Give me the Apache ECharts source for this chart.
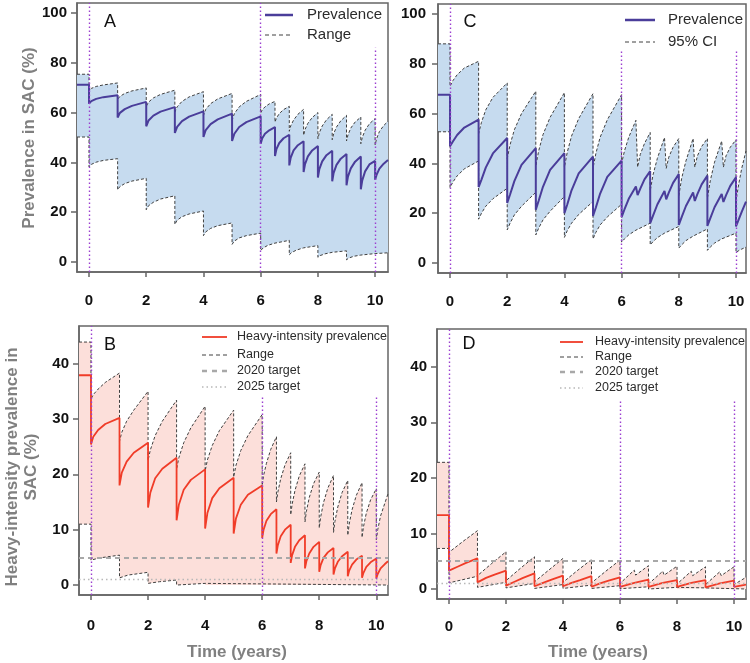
<!DOCTYPE html>
<html><head><meta charset="utf-8">
<script src="https://cdn.jsdelivr.net/npm/echarts@6/dist/echarts.min.js"></script>
<style>html,body{margin:0;padding:0;background:#fff}#c{width:750px;height:663px}</style>
</head><body><div id="c"></div>
<script>
// ---------- tick labels ----------
const xTicks = [0, 2, 4, 6, 8, 10];
const yTicksTop = [0, 20, 40, 60, 80, 100];
const yTicksBottom = [0, 10, 20, 30, 40];

// ---------- Panel A (prevalence, range) ----------
const prevA = [[-0.42,71.2],[0,71.2],
[0,63.6],[0.08,64.6],[0.25,65.5],[0.5,66.2],[1,67],
[1,58],[1.08,59.9],[1.25,61.4],[1.5,62.7],[2,64.3],
[2,54.5],[2.08,56.8],[2.25,58.8],[2.5,60.4],[3,62.2],
[3,51.8],[3.08,54.3],[3.25,56.6],[3.5,58.4],[4,60.5],
[4,50.2],[4.08,53],[4.25,55.4],[4.5,57.3],[5,59.6],
[5,48.6],[5.08,51.5],[5.25,54.2],[5.5,56.2],[6,58.5],
[6,47.5],[6.05,49.6],[6.15,51.5],[6.3,52.9],[6.5,54.2],
[6.5,42.6],[6.55,45.3],[6.65,47.8],[6.8,49.7],[7,51.1],
[7,38.8],[7.05,41.9],[7.15,44.8],[7.3,46.9],[7.5,48.5],
[7.5,36.1],[7.55,39.3],[7.65,42.4],[7.8,44.8],[8,46.6],
[8,33.9],[8.05,37.3],[8.15,40.4],[8.3,42.9],[8.5,44.7],
[8.5,32.4],[8.55,35.8],[8.65,39],[8.8,41.5],[9,43.4],
[9,30.8],[9.05,34.3],[9.15,37.6],[9.3,40.3],[9.5,42.4],
[9.5,29.2],[9.55,32.8],[9.65,36.4],[9.8,39.2],[10,40.6],
[10,33],[10.05,35],[10.15,37.5],[10.3,39.5],[10.45,41]];
const upperA = [[-0.42,75.4],[0,75.4],
[0,69],[0.08,69.7],[0.25,70.5],[0.5,71.1],[1,71.9],
[1,65.3],[1.08,66.5],[1.25,67.7],[1.5,68.7],[2,69.9],
[2,62.5],[2.08,64.2],[2.25,65.9],[2.5,67.3],[3,69],
[3,60.2],[3.08,62.3],[3.25,64.5],[3.5,66.3],[4,68.4],
[4,58.9],[4.08,61.3],[4.25,63.6],[4.5,65.5],[5,67.7],
[5,56.9],[5.08,59.6],[5.25,62.3],[5.5,64.5],[6,67.3],
[6,59.8],[6.05,61],[6.15,62.3],[6.3,63.5],[6.5,64.5],
[6.5,56.2],[6.55,57.8],[6.65,59.6],[6.8,61.2],[7,62.5],
[7,52.5],[7.05,54.7],[7.15,57],[7.3,59.3],[7.5,61.3],
[7.5,50.9],[7.55,53.2],[7.65,55.7],[7.8,58],[8,60],
[8,49.5],[8.05,51.9],[8.15,54.6],[8.3,57.1],[8.5,59.3],
[8.5,49.1],[8.55,51.5],[8.65,54.2],[8.8,56.7],[9,58.9],
[9,48.6],[9.05,51],[9.15,53.8],[9.3,56.2],[9.5,58.2],
[9.5,47.5],[9.55,50],[9.65,52.9],[9.8,55.5],[10,57.6],
[10,47],[10.05,49.5],[10.15,52.4],[10.3,54.8],[10.45,56.5]];
const lowerA = [[-0.42,50.2],[0,50.2],
[0,38.2],[0.08,39.2],[0.25,40.1],[0.5,40.8],[1,41.5],
[1,29],[1.08,30.3],[1.25,31.5],[1.5,32.5],[2,33.6],
[2,21],[2.08,22.6],[2.25,24],[2.5,25.3],[3,26.6],
[3,15.1],[3.08,16.8],[3.25,18.2],[3.5,19.3],[4,20.5],
[4,10.6],[4.08,12.1],[4.25,13.5],[4.5,14.6],[5,15.7],
[5,7.1],[5.08,8.4],[5.25,9.7],[5.5,10.6],[6,11.6],
[6,4.6],[6.08,5.6],[6.25,6.7],[6.5,7.6],[7,8.7],
[7,2.9],[7.08,3.8],[7.25,4.8],[7.5,5.7],[8,6.6],
[8,1.9],[8.08,2.6],[8.25,3.3],[8.5,3.9],[9,4.5],
[9,0.9],[9.08,1.6],[9.25,2.3],[9.5,2.8],[10,3.4],
[10.45,3.7]];
const vlinesA = [[0,104],[6,104],[10,86]];

// ---------- Panel C (prevalence, 95% CI) ----------
const prevC = [[-0.42,67.6],[0,67.6],
[0,46.9],[0.1,48.8],[0.25,51.4],[0.5,54.4],[1,57.6],
[1,30.5],[1.1,33.5],[1.25,38.3],[1.5,44],[2,50.2],
[2,24.1],[2.1,27.5],[2.25,32.9],[2.5,39.4],[3,46.1],
[3,21.4],[3.1,25],[3.25,30.6],[3.5,37.4],[4,44.1],
[4,20],[4.1,23.5],[4.25,29.2],[4.5,36],[5,42.7],
[5,18.9],[5.1,22.3],[5.25,27.9],[5.5,34.6],[6,41.1],
[6,18.4],[6.1,21.5],[6.25,25.8],[6.5,30.7],[6.56,27.3],[6.65,29.8],[6.8,33.6],[7,36.9],
[7,16],[7.1,19],[7.25,23.5],[7.5,28.9],[7.56,25.6],[7.65,28.3],[7.8,32.2],[8,35.7],
[8,15.3],[8.1,18.4],[8.25,22.9],[8.5,28.3],[8.56,24.9],[8.65,27.7],[8.8,31.6],[9,35.1],
[9,14.9],[9.1,17.9],[9.25,22.4],[9.5,27.7],[9.56,24.5],[9.65,27.2],[9.8,31],[10,34.4],
[10,14.7],[10.1,17.6],[10.2,20.5],[10.35,24.7]];
const upperC = [[-0.42,88],[0,88],
[0,71],[0.1,73.2],[0.25,75.6],[0.5,78.3],[1,81],
[1,52],[1.1,56.5],[1.25,61.5],[1.5,66.5],[2,72.3],
[2,42],[2.1,47.5],[2.25,53.5],[2.5,60],[3,69],
[3,39],[3.1,45],[3.25,51.5],[3.5,58.5],[4,68.4],
[4,38.4],[4.1,44.5],[4.25,51],[4.5,58],[5,68],
[5,38],[5.1,44],[5.25,50.5],[5.5,57.5],[6,67.6],
[6,40],[6.1,45],[6.25,50.5],[6.5,57.3],[6.56,38.5],[6.65,43.5],[6.8,48],[7,52.4],
[7,29],[7.1,35.5],[7.25,42],[7.5,50.4],[7.56,38],[7.65,42.5],[7.8,46.5],[8,50],
[8,27],[8.1,34],[8.25,41],[8.5,50],[8.56,38.5],[8.65,43],[8.8,46.8],[9,50],
[9,26],[9.1,33],[9.25,40.5],[9.5,49],[9.56,38.5],[9.65,43],[9.8,46.5],[10,49.5],
[10,25],[10.1,32],[10.2,38],[10.35,45]];
const lowerC = [[-0.42,52.7],[0,52.7],
[0,30.3],[0.1,32.5],[0.25,35],[0.5,37.8],[1,41],
[1,17.6],[1.1,20],[1.25,22.8],[1.5,25.8],[2,30],
[2,13.3],[2.1,16],[2.25,19.3],[2.5,22.8],[3,28.4],
[3,11.3],[3.1,14],[3.25,17.3],[3.5,20.8],[4,26.7],
[4,10.3],[4.1,13],[4.25,16],[4.5,19.5],[5,24.7],
[5,9.7],[5.1,12.3],[5.25,15.3],[5.5,18.5],[6,23.6],
[6,8.4],[6.1,9.7],[6.25,11.3],[6.5,13.2],[7,16],
[7,7.3],[7.1,8.6],[7.25,10.2],[7.5,12],[8,14.7],
[8,6],[8.1,7.3],[8.25,9],[8.5,10.8],[9,13.7],
[9,5.1],[9.1,6.4],[9.25,8],[9.5,9.7],[10,12],
[10,4.3],[10.1,5],[10.2,5.6],[10.35,6.4]];
const vlinesC = [[0,104],[6,85],[10,85]];

// ---------- Panel B (heavy-intensity, range) ----------
const prevB = [[-0.42,37.9],[0,37.9],
[0,25.4],[0.08,26.8],[0.25,28],[0.5,29.1],[1,30.2],
[1,18],[1.08,20.3],[1.25,22.3],[1.5,23.9],[2,25.7],
[2,14],[2.08,16.7],[2.25,19.3],[2.5,21],[3,23],
[3,11.7],[3.08,14.5],[3.25,17.2],[3.5,19],[4,20.9],
[4,10.2],[4.08,13],[4.25,15.7],[4.5,17.5],[5,19.4],
[5,9.3],[5.08,12],[5.25,14.5],[5.5,16.3],[6,18],
[6,8.5],[6.05,10],[6.15,11.6],[6.3,12.8],[6.5,13.7],
[6.5,5.7],[6.55,7.2],[6.65,8.8],[6.8,10],[7,10.9],
[7,4],[7.05,5.4],[7.15,6.9],[7.3,8.1],[7.5,9],
[7.5,3],[7.55,4.3],[7.65,5.7],[7.8,6.9],[8,7.8],
[8,2.4],[8.05,3.6],[8.15,4.9],[8.3,5.9],[8.5,6.7],
[8.5,1.9],[8.55,3],[8.65,4.2],[8.8,5.2],[9,6],
[9,1.6],[9.05,2.6],[9.15,3.7],[9.3,4.6],[9.5,5.3],
[9.5,1.3],[9.55,2.2],[9.65,3.3],[9.8,4.1],[10,4.8],
[10,1.2],[10.05,2],[10.15,3],[10.3,3.8],[10.41,4.3]];
const upperB = [[-0.42,43.9],[0,43.9],
[0,33.6],[0.08,34.4],[0.25,35.4],[0.5,36.6],[1,38.3],
[1,26],[1.08,27.6],[1.25,29.6],[1.5,31.6],[2,35],
[2,22.5],[2.08,24.4],[2.25,27],[2.5,29.6],[3,33.4],
[3,21],[3.08,23],[3.25,25.7],[3.5,28.4],[4,32.3],
[4,20.6],[4.08,22.6],[4.25,25.2],[4.5,27.9],[5,31.6],
[5,19.5],[5.08,21.6],[5.25,24.3],[5.5,27],[6,30.8],
[6,18],[6.05,19.8],[6.15,22],[6.3,24.5],[6.5,26.8],
[6.5,15],[6.55,16.8],[6.65,19.2],[6.8,21.7],[7,23.9],
[7,12.7],[7.05,14.6],[7.15,17.1],[7.3,19.7],[7.5,21.9],
[7.5,11.4],[7.55,13.3],[7.65,15.8],[7.8,18.3],[8,20.4],
[8,10.3],[8.05,12.3],[8.15,14.9],[8.3,17.5],[8.5,19.8],
[8.5,9.5],[8.55,11.5],[8.65,14.1],[8.8,16.7],[9,18.9],
[9,9],[9.05,11],[9.15,13.6],[9.3,16.2],[9.5,18.5],
[9.5,8.6],[9.55,10.5],[9.65,13],[9.8,15.4],[10,17.4],
[10,8.2],[10.05,10],[10.15,12.5],[10.3,14.8],[10.41,16.5]];
const lowerB = [[-0.42,11],[0,11],
[0,4.5],[0.3,4.9],[1,5.4],
[1,1.3],[1.3,1.8],[2,2.3],
[2,0.3],[2.4,0.6],[3,0.9],
[3,0],[3.5,0.15],[4,0.3],
[4,0],[10.41,0]];
const vlinesB = [[0,46.8],[6,34],[10,34]];

// ---------- Panel D (heavy-intensity, range) ----------
const prevD = [[-0.42,13.3],[0,13.3],
[0,3.3],[0.3,4],[0.6,4.7],[1,5.5],
[1,1.2],[1.3,2],[1.6,2.6],[2,3.3],
[2,0.6],[2.3,1.3],[2.6,2],[3,2.8],
[3,0.5],[3.3,1.1],[3.6,1.7],[4,2.4],
[4,0.5],[4.3,1.1],[4.6,1.6],[5,2.3],
[5,0.4],[5.3,1],[5.6,1.5],[6,2.1],
[6,0.4],[6.5,1.1],[6.55,1],[7,1.7],
[7,0.4],[7.5,1.1],[7.55,1],[8,1.6],
[8,0.4],[8.5,1.1],[8.55,1],[9,1.6],
[9,0.3],[9.5,1],[9.55,0.9],[10,1.5],
[10,0.4],[10.42,0.8]];
const upperD = [[-0.42,22.8],[0,22.8],
[0,6.6],[0.5,8.6],[1,10.5],
[1,2.4],[1.5,4.6],[2,6.7],
[2,1.5],[2.5,3.7],[3,5.8],
[3,1.3],[3.5,3.4],[4,5.5],
[4,1.2],[4.5,3.3],[5,5.3],
[5,1.1],[5.5,3.2],[6,5.2],
[6,1],[6.5,3.4],[6.55,2.5],[7,4.2],
[7,0.9],[7.5,3.2],[7.55,2.5],[8,4.1],
[8,0.9],[8.5,3.2],[8.55,2.4],[9,4],
[9,0.8],[9.5,3.1],[9.55,2.4],[10,4],
[10,0.8],[10.42,2.1]];
const lowerD = [[-0.42,7.3],[0,7.3],
[0,1.1],[1,2.3],
[1,0.3],[2,1.2],
[2,0.2],[3,1],
[3,0.1],[4,0.8],
[4,0.1],[5,0.7],
[5,0.1],[6,0.6],
[6,0.05],[7,0.4],
[7,0],[8,0.3],
[8,0],[9,0.2],
[9,0],[10.42,0]];
const vlinesD = [[0,46.8],[6,34],[10,34]];

const target2020 = 5;
const target2025 = 1;

// ---------- styling / layout ----------
const FONT = '"Liberation Sans", Arial, Helvetica, sans-serif';
const AX = '#666';
const PURPLE = '#4a3d9a', BLUE_FILL = '#c6dbef';
const RED = '#f03c28', PINK_FILL = '#fcdfda';
const VL = '#9b3fd0';

const panels = [
  {grid:{left:77, top:3, width:311, height:269}, x:[-0.42,10.45], y:[-4,104], yt:yTicksTop, xm:21, ym:10,
   prev:prevA, up:upperA, lo:lowerA, vl:vlinesA, color:PURPLE, fill:BLUE_FILL, w:2, targets:false},
  {grid:{left:438, top:4, width:308, height:269}, x:[-0.42,10.35], y:[-4,104], yt:yTicksTop, xm:21, ym:12,
   prev:prevC, up:upperC, lo:lowerC, vl:vlinesC, color:PURPLE, fill:BLUE_FILL, w:2, targets:false},
  {grid:{left:79, top:326, width:309, height:269}, x:[-0.42,10.41], y:[-1.8,46.8], yt:yTicksBottom, xm:23, ym:10,
   prev:prevB, up:upperB, lo:lowerB, vl:vlinesB, color:RED, fill:PINK_FILL, w:1.8, targets:true},
  {grid:{left:437, top:329, width:309, height:270}, x:[-0.42,10.42], y:[-1.8,46.8], yt:yTicksBottom, xm:20, ym:10,
   prev:prevD, up:upperD, lo:lowerD, vl:vlinesD, color:RED, fill:PINK_FILL, w:1.8, targets:true}
];

const grid = [], xAxis = [], yAxis = [], series = [];
panels.forEach((p, i) => {
  grid.push(Object.assign({show:true, borderColor:AX, borderWidth:1.5, backgroundColor:'transparent', containLabel:false}, p.grid));
  const common = {
    gridIndex:i, type:'value',
    axisLine:{show:true, onZero:false, lineStyle:{color:AX, width:1.5}},
    splitLine:{show:false},
  };
  xAxis.push(Object.assign({}, common, {
    min:p.x[0], max:p.x[1],
    axisTick:{show:true, length:5, customValues:xTicks, lineStyle:{color:AX, width:1.5}},
    axisLabel:{customValues:xTicks, margin:p.xm, fontFamily:FONT, fontWeight:'bold', fontSize:15, color:'#111'}
  }));
  yAxis.push(Object.assign({}, common, {
    min:p.y[0], max:p.y[1],
    axisTick:{show:true, length:6, customValues:p.yt, lineStyle:{color:AX, width:1.5}},
    axisLabel:{customValues:p.yt, margin:p.ym, fontFamily:FONT, fontWeight:'bold', fontSize:15, color:'#111'}
  }));
  // shaded range band
  const up = p.up, lo = p.lo, fill = p.fill;
  series.push({
    type:'custom', xAxisIndex:i, yAxisIndex:i, silent:true, z:1, clip:true,
    data:[up[0]],
    renderItem:(params, api) => {
      const pts = up.map(d => api.coord(d));
      for (let k = lo.length - 1; k >= 0; k--) pts.push(api.coord(lo[k]));
      return {type:'polygon', shape:{points:pts}, style:{fill:fill}};
    }
  });
  const rangeLine = data => ({
    type:'line', xAxisIndex:i, yAxisIndex:i, data:data, symbol:'none', silent:true, z:3,
    lineStyle:{color:'#404040', width:1, type:[3,2]}
  });
  const upS = rangeLine(up), loS = rangeLine(lo);
  if (p.targets) {
    upS.markLine = {symbol:['none','none'], silent:true, label:{show:false}, animation:false,
      lineStyle:{color:'#a8a8a8', width:2.2, type:[5,4]},
      data:[[{coord:[p.x[0], target2020]},{coord:[p.x[1], target2020]}]]};
    loS.markLine = {symbol:['none','none'], silent:true, label:{show:false}, animation:false,
      lineStyle:{color:'#b8b8b8', width:1.3, type:[1.5,3]},
      data:[[{coord:[p.x[0], target2025]},{coord:[p.x[1], target2025]}]]};
  }
  series.push(upS, loS);
  series.push({
    type:'line', xAxisIndex:i, yAxisIndex:i, data:p.prev, symbol:'none', silent:true, z:4,
    lineStyle:{color:p.color, width:p.w},
    markLine:{symbol:['none','none'], silent:true, label:{show:false}, animation:false,
      lineStyle:{color:VL, width:1.4, type:[1.5,2.5]},
      data:p.vl.map(v => [{coord:[v[0], p.y[0]]},{coord:[v[0], v[1]]}])}
  });
});

const txt = (x, y, text, font, fill, rot, align) => ({
  type:'text', x:x, y:y, rotation:rot || 0, silent:true, z:10,
  style:{text:text, font:font, fill:fill, align:align || 'left', verticalAlign:'middle',
         textAlign:align || 'left', textVerticalAlign:'middle'}
});
const seg = (x1, y1, x2, y2, stroke, lw, dash) => ({
  type:'line', silent:true, z:10, shape:{x1:x1, y1:y1, x2:x2, y2:y2},
  style:{stroke:stroke, lineWidth:lw, lineDash:dash || null}
});
const TITLE = 'bold 17px ' + FONT, TC = '#808080';
const L1 = '15px ' + FONT, L2 = '12.5px ' + FONT, LC = '#2b2b2b';

const graphic = [
  txt(29, 138, 'Prevalence in SAC (%)', TITLE, TC, Math.PI/2, 'center'),
  txt(12, 467, 'Heavy-intensity prevalence in', TITLE, TC, Math.PI/2, 'center'),
  txt(31, 467, 'SAC (%)', TITLE, TC, Math.PI/2, 'center'),
  txt(237, 652, 'Time (years)', TITLE, TC, 0, 'center'),
  txt(598, 652, 'Time (years)', TITLE, TC, 0, 'center'),
  txt(110, 22, 'A', '18px ' + FONT, '#111', 0, 'center'),
  txt(470, 22, 'C', '18px ' + FONT, '#111', 0, 'center'),
  txt(110, 345, 'B', '18px ' + FONT, '#111', 0, 'center'),
  txt(469, 344, 'D', '18px ' + FONT, '#111', 0, 'center'),
  // legend A
  seg(265, 15, 293, 15, PURPLE, 2.5),
  seg(265, 35, 293, 35, '#404040', 1, [4,3]),
  txt(307, 15, 'Prevalence', L1, LC),
  txt(307, 35, 'Range', L1, LC),
  // legend C
  seg(625, 20, 655, 20, PURPLE, 2.5),
  seg(625, 42, 655, 42, '#404040', 1, [4,3]),
  txt(668, 20, 'Prevalence', L1, LC),
  txt(668, 42, '95% CI', L1, LC),
  // legend B
  seg(202, 337, 227, 337, RED, 1.8),
  seg(202, 355, 227, 355, '#404040', 1, [4,3]),
  seg(202, 371, 227, 371, '#a8a8a8', 2.5, [5,5]),
  seg(202, 387, 227, 387, '#b8b8b8', 1.5, [1.5,3]),
  txt(237, 337, 'Heavy-intensity prevalence', L2, LC),
  txt(237, 355, 'Range', L2, LC),
  txt(237, 371, '2020 target', L2, LC),
  txt(237, 387, '2025 target', L2, LC),
  // legend D
  seg(560, 342, 583, 342, RED, 1.8),
  seg(560, 357, 583, 357, '#404040', 1, [4,3]),
  seg(560, 372, 583, 372, '#a8a8a8', 2.5, [5,5]),
  seg(560, 388, 583, 388, '#b8b8b8', 1.5, [1.5,3]),
  txt(595, 342, 'Heavy-intensity prevalence', L2, LC),
  txt(595, 357, 'Range', L2, LC),
  txt(595, 372, '2020 target', L2, LC),
  txt(595, 388, '2025 target', L2, LC)
];

const chart = echarts.init(document.getElementById('c'), null, {renderer:'canvas'});
chart.setOption({animation:false, backgroundColor:'#fff', grid:grid, xAxis:xAxis, yAxis:yAxis, series:series, graphic:graphic});
</script></body></html>
